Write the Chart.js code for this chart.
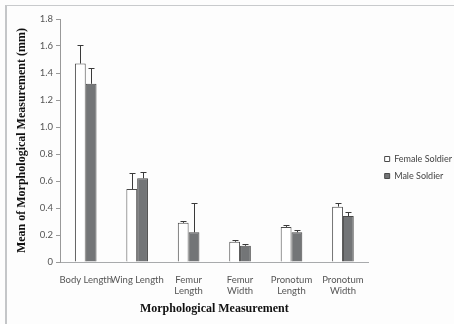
<!DOCTYPE html>
<html>
<head>
<meta charset="utf-8">
<script src="https://cdn.jsdelivr.net/npm/chart.js@4.4.0/dist/chart.umd.min.js"></script>
<style>
  html, body { margin: 0; padding: 0; background: #fdfdfd; }
  #wrap { position: relative; width: 454px; height: 324px; }
  #frame { position: absolute; left: 5px; top: 5px; right: 0; bottom: 0;
           border-left: 2px solid #c4c6c8; border-top: 1px solid #c8cacc; }
  canvas { position: absolute; left: 0; top: 0; }
</style>
</head>
<body>
<div id="wrap">
  <div id="frame"></div>
  <canvas id="chart" width="454" height="324"></canvas>
</div>
<script>
// Data
const categories = [
  'Body Length', 'Wing Length', ['Femur', 'Length'],
  ['Femur', 'Width'], ['Pronotum', 'Length'], ['Pronotum', 'Width']
];
const femaleMean = [1.47, 0.54, 0.29, 0.15, 0.26, 0.41];
const femaleErr  = [0.14, 0.12, 0.015, 0.01, 0.017, 0.026];
const maleMean   = [1.32, 0.62, 0.22, 0.12, 0.22, 0.34];
const maleErr    = [0.12, 0.05, 0.22, 0.015, 0.02, 0.03];
const yTicks = [0, 0.2, 0.4, 0.6, 0.8, 1, 1.2, 1.4, 1.6, 1.8];

const tickFont = { family: 'Lato, "Open Sans", sans-serif', size: 9.5, lineHeight: 1.1 };
const titleFont = { family: '"Liberation Serif", "Times New Roman", serif', size: 12, weight: 'bold' };

// upward-only error bars with caps
const errorBars = {
  id: 'errorBars',
  afterDatasetsDraw(chart) {
    const ctx = chart.ctx;
    const yScale = chart.scales.y;
    ctx.save();
    ctx.strokeStyle = '#3a3a3a';
    ctx.lineWidth = 1;
    chart.data.datasets.forEach((ds, i) => {
      const meta = chart.getDatasetMeta(i);
      meta.data.forEach((bar, j) => {
        const top = yScale.getPixelForValue(ds.data[j]);
        const end = Math.round(yScale.getPixelForValue(ds.data[j] + ds.errors[j])) + 0.5;
        const x = Math.round(bar.x) + 0.5;
        ctx.beginPath();
        ctx.moveTo(x, top);
        ctx.lineTo(x, end);
        ctx.moveTo(x - 3, end);
        ctx.lineTo(x + 3, end);
        ctx.stroke();
      });
    });
    ctx.restore();
  }
};

new Chart(document.getElementById('chart'), {
  type: 'bar',
  data: {
    labels: categories,
    datasets: [
      {
        label: 'Female Soldier',
        data: femaleMean,
        errors: femaleErr,
        backgroundColor: '#ffffff',
        borderColor: '#4a4a4a',
        borderWidth: 1
      },
      {
        label: 'Male Soldier',
        data: maleMean,
        errors: maleErr,
        backgroundColor: '#737577',
        borderColor: '#4a4a4a',
        borderWidth: 1
      }
    ]
  },
  options: {
    responsive: false,
    animation: false,
    devicePixelRatio: 1,
    layout: { padding: { top: 19, right: 2, bottom: 8, left: 0 } },
    datasets: { bar: { categoryPercentage: 0.42, barPercentage: 1 } },
    scales: {
      x: {
        grid: { display: false },
        border: { color: '#a8aaac' },
        ticks: { color: '#555', font: tickFont, autoSkip: false, maxRotation: 0, padding: 5 },
        title: { display: true, text: 'Morphological Measurement', color: '#111', font: titleFont,
                 padding: 0 },
        afterFit(scale) { scale.height = 54; }
      },
      y: {
        min: 0,
        max: 1.8,
        afterBuildTicks(scale) { scale.ticks = yTicks.map(v => ({ value: v })); },
        grid: { drawOnChartArea: false, drawTicks: true, tickLength: 4, color: '#999' },
        border: { color: '#999' },
        ticks: { color: '#555', font: tickFont, padding: 3 },
        title: { display: true, text: 'Mean of Morphological Measurement (mm)', color: '#111',
                 font: titleFont, padding: { top: 15, bottom: 15 } },
        afterFit(scale) { scale.width = 60; }
      },
      gap: {
        position: 'right',
        display: true,
        grid: { display: false },
        border: { display: false },
        ticks: { display: false },
        afterFit(scale) { scale.width = 8; }
      }
    },
    plugins: {
      legend: {
        position: 'right',
        labels: { boxWidth: 5, boxHeight: 5, padding: 8, color: '#444',
                  font: { family: 'Lato, "Open Sans", sans-serif', size: 9 } }
      },
      tooltip: { enabled: false }
    }
  },
  plugins: [errorBars]
});
</script>
</body>
</html>
